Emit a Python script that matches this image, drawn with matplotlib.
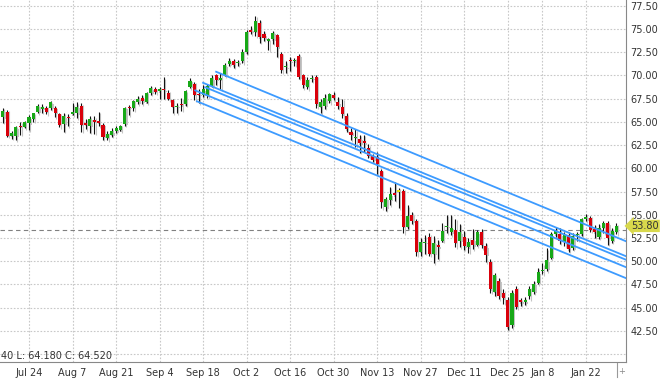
import matplotlib.pyplot as plt
from matplotlib.lines import Line2D

# daily candles, Jul 14 2017 .. Jan 31 2018 (trading-day index)
opens = [65.5, 66.1, 63.5, 63.5, 64.55, 64.45, 64.85, 65.3, 66.1, 66.4,
         66.5, 66.5, 66.5, 65.8, 64.8, 65.55, 65.8, 65.9, 66.7, 64.9,
         64.6, 65.2, 65.1, 64.7, 63.3, 63.6, 64.0, 64.1, 64.8, 66.6,
         66.5, 67.1, 67.6, 67.1, 68.1, 68.5, 68.3, 68.5, 68.1, 67.3,
         66.6, 66.9, 66.9, 68.8, 69.1, 68.0, 67.9, 67.9, 68.9, 70.0,
         69.5, 70.0, 71.2, 71.5, 71.3, 71.5, 72.5, 74.9, 74.7, 75.6,
         74.4, 73.75, 73.9, 74.3, 72.3, 70.85, 71.6, 71.5, 72.1, 70.0,
         68.8, 69.6, 69.85, 66.6, 66.7, 67.2, 67.9, 67.1, 66.6, 65.6,
         63.9, 63.3, 63.2, 62.9, 62.2, 61.3, 61.2, 59.7, 55.8, 56.6,
         57.3, 57.5, 57.6, 53.7, 55.0, 54.3, 51.0, 52.0, 52.6, 50.8,
         51.7, 52.15, 53.7, 53.1, 53.4, 52.2, 52.6, 51.5, 52.3, 51.8,
         53.2, 51.6, 49.9, 46.7, 47.9, 46.6, 45.8, 43.1, 47.0, 45.8,
         45.6, 46.3, 46.7, 47.7, 48.9, 49.2, 50.4, 52.9, 52.9, 52.1,
         52.8, 51.4, 52.8, 52.9, 54.5, 54.7, 53.5, 52.6, 53.6, 54.1,
         52.2, 53.15]
highs = [66.5, 66.3, 64.0, 64.6, 65.0, 65.1, 65.7, 66.0, 66.9, 66.9,
         66.7, 67.2, 66.7, 66.0, 66.0, 65.8, 67.0, 67.1, 67.0, 65.3,
         65.6, 65.6, 66.1, 64.9, 64.0, 64.3, 64.5, 64.7, 66.6, 66.8,
         67.4, 67.8, 67.9, 68.2, 68.9, 68.7, 68.8, 69.8, 68.4, 67.5,
         67.0, 67.6, 68.4, 69.7, 69.3, 68.5, 69.0, 69.1, 70.0, 70.1,
         70.3, 71.3, 71.9, 71.8, 71.7, 72.8, 74.9, 75.3, 76.4, 76.0,
         74.8, 74.0, 74.8, 74.5, 72.5, 71.5, 72.0, 71.9, 72.3, 70.1,
         69.8, 70.0, 70.0, 67.5, 68.0, 68.1, 68.2, 67.7, 67.5, 65.9,
         64.3, 64.2, 63.6, 63.6, 62.6, 61.5, 61.8, 59.9, 56.9, 58.0,
         58.5, 57.9, 57.8, 56.0, 55.3, 54.6, 52.5, 52.8, 53.0, 52.7,
         52.3, 54.1, 55.0, 55.0, 54.6, 54.0, 53.3, 52.5, 53.5, 53.4,
         53.5, 52.0, 50.2, 48.7, 48.2, 47.0, 46.1, 46.9, 47.3, 46.0,
         46.1, 47.3, 47.9, 49.3, 49.8, 51.4, 53.2, 53.7, 53.6, 53.1,
         53.1, 53.0, 53.2, 54.7, 55.1, 54.9, 53.9, 54.0, 54.3, 54.3,
         53.6, 54.1]
lows = [64.9, 63.4, 63.2, 63.0, 63.6, 64.3, 64.1, 65.0, 65.9, 66.0,
        65.8, 66.3, 65.5, 64.4, 63.9, 64.5, 65.7, 65.4, 63.9, 64.2,
        63.8, 63.7, 64.5, 63.1, 63.0, 63.4, 63.8, 64.0, 64.6, 65.7,
        66.2, 66.9, 66.9, 67.0, 67.9, 68.0, 67.5, 67.5, 67.3, 65.9,
        65.9, 66.2, 66.7, 68.6, 67.3, 67.0, 67.7, 67.6, 68.7, 69.0,
        68.5, 69.9, 71.0, 70.8, 71.0, 71.3, 72.3, 74.4, 74.2, 73.5,
        73.7, 72.7, 73.4, 72.0, 70.3, 70.3, 70.5, 71.0, 69.6, 68.6,
        68.5, 69.3, 66.5, 65.9, 66.4, 67.0, 67.3, 66.4, 65.4, 63.9,
        63.0, 62.3, 61.7, 61.8, 61.1, 60.7, 59.4, 55.7, 55.4, 56.0,
        56.5, 55.7, 53.0, 53.5, 54.0, 50.6, 50.6, 50.8, 50.6, 49.8,
        50.2, 52.1, 53.0, 52.8, 51.5, 51.5, 51.2, 50.9, 51.3, 51.6,
        51.4, 49.9, 46.6, 46.3, 45.9, 45.4, 42.6, 42.8, 44.9, 45.2,
        45.3, 45.9, 46.5, 47.5, 48.6, 48.9, 50.2, 52.6, 51.9, 51.6,
        51.0, 51.2, 52.2, 52.7, 54.3, 53.2, 52.5, 52.4, 53.0, 51.8,
        52.0, 52.9]
closes = [66.2, 63.5, 63.8, 64.4, 64.45, 65.0, 65.5, 65.9, 66.7, 66.6,
          66.1, 67.1, 66.0, 64.7, 65.6, 65.45, 66.1, 66.6, 64.7, 64.7,
          65.3, 65.0, 64.9, 63.4, 63.7, 64.0, 64.3, 64.5, 66.5, 66.5,
          67.2, 67.5, 67.2, 68.1, 68.6, 68.2, 68.5, 68.4, 67.5, 66.6,
          66.7, 66.8, 68.3, 69.4, 67.9, 67.9, 68.5, 68.9, 69.7, 69.5,
          69.7, 71.1, 71.6, 71.1, 71.45, 72.5, 74.7, 74.7, 75.9, 74.1,
          74.0, 73.85, 74.6, 73.0, 70.6, 70.95, 71.5, 71.65, 69.8, 69.0,
          69.5, 69.75, 66.9, 67.1, 67.6, 68.0, 67.6, 66.7, 65.8, 64.2,
          63.6, 63.4, 62.7, 62.7, 61.3, 60.9, 60.5, 56.4, 56.7, 57.2,
          57.1, 57.5, 53.7, 54.9, 54.3, 51.0, 52.1, 52.1, 50.8, 52.0,
          51.5, 53.3, 53.8, 53.6, 52.0, 53.1, 51.6, 52.1, 51.7, 53.1,
          51.8, 50.7, 47.0, 48.5, 46.3, 46.0, 42.9, 46.6, 45.1, 45.6,
          45.8, 47.0, 47.6, 48.8, 49.0, 50.1, 52.9, 53.3, 52.2, 52.8,
          51.3, 52.7, 52.9, 54.5, 54.8, 53.4, 53.1, 53.6, 54.1, 52.5,
          53.3, 53.8]

tick_pos = [6, 16, 26, 36, 46, 56, 66, 76, 86, 96, 106, 116, 124, 134]
tick_labels = ['Jul 24', 'Aug 7', 'Aug 21', 'Sep 4', 'Sep 18', 'Oct 2',
               'Oct 16', 'Oct 30', 'Nov 13', 'Nov 27', 'Dec 11', 'Dec 25',
               'Jan 8', 'Jan 22']
price_ticks = [42.5, 45.0, 47.5, 50.0, 52.5, 55.0, 57.5, 60.0, 62.5, 65.0,
               67.5, 70.0, 72.5, 75.0, 77.5]

# drawn channel lines (start index, start price, end index, end price)
chan_x0 = [49.0, 46.0, 46.5, 44.2, 44.6]
chan_y0 = [70.39, 69.2, 68.72, 68.38, 67.21]
chan_x1 = [143.2, 143.2, 143.2, 143.2, 143.2]
chan_y1 = [52.15, 50.54, 50.16, 49.36, 48.18]

last_price = 53.80
ref_line = 53.37
info_text = '40 L: 64.180 C: 64.520'

plt.rcParams['font.family'] = 'DejaVu Sans'
fig = plt.figure(figsize=(6.6, 3.79), dpi=100)
ax = fig.add_axes([0, 1 - 362 / 379, 626 / 660, 362 / 379])

n = len(opens)
xs = list(range(n))
up, down, flat = '#17a817', '#d9000b', '#e6e600'
colors = []
for o, c in zip(opens, closes):
    if c > o:
        colors.append(up)
    elif c < o:
        colors.append(down)
    else:
        colors.append(flat)
bottoms = [min(o, c) for o, c in zip(opens, closes)]
heights = [max(abs(c - o), 0.12) for o, c in zip(opens, closes)]

# grey drop shadow
sx = [x + 0.3 for x in xs]
ax.vlines(sx, [l - 0.15 for l in lows], [h - 0.15 for h in highs],
          color='#c4c4c4', linewidth=0.8, zorder=2)
ax.bar(sx, heights, bottom=[b - 0.15 for b in bottoms], width=0.7,
       color='#c4c4c4', zorder=2)
# candles
ax.vlines(xs, lows, highs, color='#111111', linewidth=0.8, zorder=3)
ax.bar(xs, heights, bottom=bottoms, width=0.7, color=colors, zorder=4)

for x0, y0, x1, y1 in zip(chan_x0, chan_y0, chan_x1, chan_y1):
    ax.plot([x0, x1], [y0, y1], color='#3d9bff', linewidth=1.3, zorder=5)

ax.axhline(ref_line, color='#808080', linestyle=(0, (4, 3)), linewidth=0.8,
           zorder=1)

ax.set_xlim(-0.67, 143.2)
ax.set_ylim(39.16, 78.11)
ax.set_xticks(tick_pos, tick_labels)
ax.set_yticks([40.0] + price_ticks,
              [''] + ['%.2f' % p for p in price_ticks])
ax.yaxis.tick_right()
ax.tick_params(axis='x', length=0, pad=4, labelsize=7, colors='#333333')
ax.tick_params(axis='y', length=0, pad=3, labelsize=7, colors='#333333')
ax.grid(True, color='#c8c8c8', linestyle=(0, (1.5, 1.5)), linewidth=0.8,
        zorder=0)
ax.set_axisbelow(True)
for side in ['top', 'left']:
    ax.spines[side].set_visible(False)
for side in ['right', 'bottom']:
    ax.spines[side].set_color('#888888')

ax.text(1.008, last_price, '%.2f' % last_price,
        transform=ax.get_yaxis_transform(), ha='left', va='center',
        fontsize=7, color='#333333', zorder=6,
        bbox=dict(boxstyle='larrow,pad=0.12', fc='#d8d84c', ec='none'))

fig.text(1 / 660, 1 - 356 / 379, info_text, ha='left', va='center',
         fontsize=7, color='#333333')
fig.add_artist(Line2D([617 / 660, 617 / 660], [1 - 363 / 379, 1 - 377 / 379],
                      color='#999999', linewidth=0.8))
fig.text(622 / 660, 1 - 371 / 379, '+', ha='center', va='center',
         fontsize=6, color='#888888')

fig.savefig('out.png', dpi=100)
